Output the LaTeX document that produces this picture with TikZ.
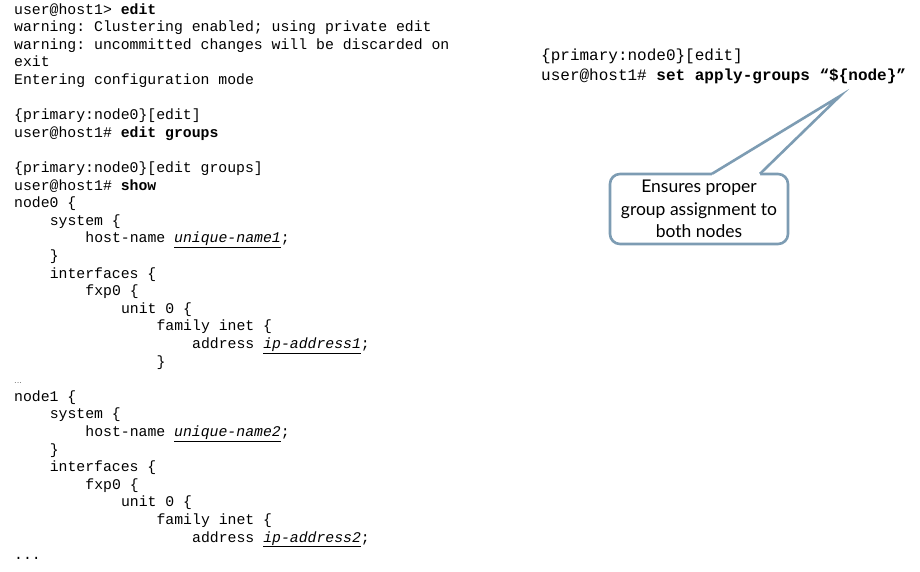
\documentclass[tikz,border=0pt]{standalone}
\usepackage{fontspec}
\setmonofont{Liberation Mono}
\newfontfamily\calfont{Lato}
\definecolor{callblue}{HTML}{7D9CB3}
\newcommand{\ind}[1]{\hspace*{#1\dimexpr 8.9pt\relax}}
\newcommand{\ul}[1]{\underline{\textit{#1}}}
\begin{document}
\begin{tikzpicture}[x=1pt,y=-1pt,
  code/.style={anchor=base west,inner sep=0pt,font=\ttfamily\fontsize{14.8}{17}\selectfont},
  bigcode/.style={code,font=\ttfamily\fontsize{16}{18}\selectfont},
  note/.style={draw=callblue,line width=2.6pt,rounded corners=10pt,fill=white,align=center,
    minimum width=178pt,minimum height=70pt,inner sep=1pt,
    font=\calfont\fontsize{17.5}{22.5}\selectfont}]
\useasboundingbox[fill=white] (0,0) rectangle (920,571);
\node[code] (l0) at (14,14) {user@host1> \textbf{edit}};
\node[code] (l1) at (14,31.6) {warning: Clustering enabled; using private edit};
\node[code] (l2) at (14,49.2) {warning: uncommitted changes will be discarded on};
\node[code] (l3) at (14,66.8) {exit};
\node[code] (l4) at (14,84.4) {Entering configuration mode};
\node[code] (l6) at (14,119.6) {\{primary:node0\}[edit]};
\node[code] (l7) at (14,137.2) {user@host1\# \textbf{edit groups}};
\node[code] (l9) at (14,172.4) {\{primary:node0\}[edit groups]};
\node[code] (l10) at (14,190) {user@host1\# \textbf{show}};
\node[code] (l11) at (14,207.6) {node0 \{};
\node[code] (l12) at (14,225.2) {\ind{4}system \{};
\node[code] (l13) at (14,242.8) {\ind{8}host-name \ul{unique-name1};};
\node[code] (l14) at (14,260.4) {\ind{4}\}};
\node[code] (l15) at (14,278) {\ind{4}interfaces \{};
\node[code] (l16) at (14,295.6) {\ind{8}fxp0 \{};
\node[code] (l17) at (14,313.2) {\ind{12}unit 0 \{};
\node[code] (l18) at (14,330.8) {\ind{16}family inet \{};
\node[code] (l19) at (14,348.4) {\ind{20}address \ul{ip-address1};};
\node[code] (l20) at (14,366) {\ind{16}\}};
\node[code,font=\rmfamily\fontsize{9}{10}\selectfont] (l21) at (14,383.6) {...};
\node[code] (l22) at (14,401.2) {node1 \{};
\node[code] (l23) at (14,418.8) {\ind{4}system \{};
\node[code] (l24) at (14,436.4) {\ind{8}host-name \ul{unique-name2};};
\node[code] (l25) at (14,454) {\ind{4}\}};
\node[code] (l26) at (14,471.6) {\ind{4}interfaces \{};
\node[code] (l27) at (14,489.2) {\ind{8}fxp0 \{};
\node[code] (l28) at (14,506.8) {\ind{12}unit 0 \{};
\node[code] (l29) at (14,524.4) {\ind{16}family inet \{};
\node[code] (l30) at (14,542) {\ind{20}address \ul{ip-address2};};
\node[code] (l31) at (14,559.6) {...};
\node[bigcode] (r0) at (541,60) {\{primary:node0\}[edit]};
\node[bigcode] (r1) at (541,80) {user@host1\# \textbf{set apply-groups “\$\{node\}”}};
\node[note] (note) at (699,209) {Ensures proper\\group assignment to\\both nodes};
\coordinate (tip) at (840,96);
\coordinate (pa) at (712,173.8);
\coordinate (pb) at (760,173.8);
\fill[white] ([yshift=-3pt]pa) -- (pa) -- (tip) -- (pb) -- ([yshift=-3pt]pb) -- cycle;
\draw[callblue,line width=2.6pt,line join=miter] (pa) -- (tip) -- (pb);
\end{tikzpicture}
\end{document}
